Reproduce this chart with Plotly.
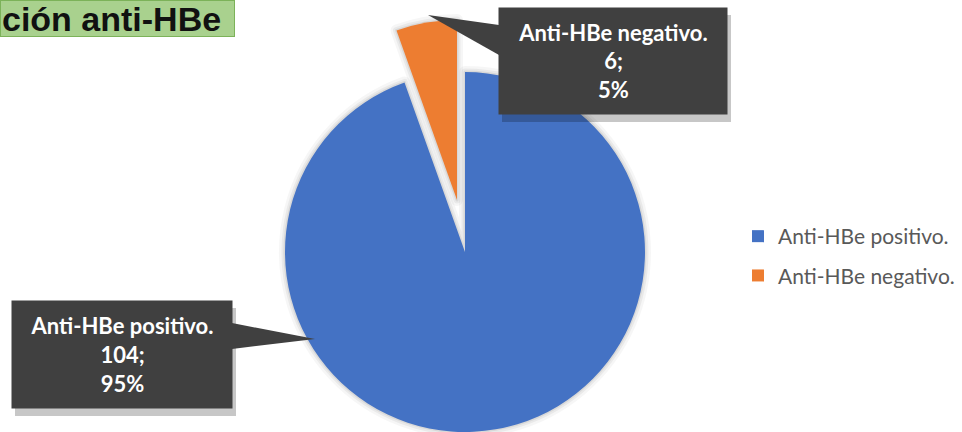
import plotly.graph_objects as go

W, H = 962, 432

# ---- data ----
labels = ["Anti-HBe positivo.", "Anti-HBe negativo."]
values = [104, 6]
percents = ["95%", "5%"]
colors = ["#4472c4", "#ed7d31"]
title_text = "ción anti-HBe"

T = "rgba(0,0,0,0)"

def X(px):
    return px / W

def Y(py):
    return 1 - py / H

# pie geometry (pixel boxes)
main_box = dict(x=[X(285), X(645)], y=[Y(432), Y(72)])
pulled_box = dict(x=[X(277), X(637)], y=[Y(380), Y(20)])

common = dict(labels=labels, values=values, sort=False, direction="clockwise",
              rotation=0, textinfo="none", hoverinfo="label+value+percent")

fig = go.Figure()

# legend-only pies (hidden beneath the main blue slice)
fig.add_trace(go.Pie(labels=[labels[0]], values=[values[0]], marker=dict(colors=[colors[0]]),
                     domain=dict(x=[X(500), X(514)], y=[Y(340), Y(326)]), textinfo="none",
                     legendgroup="p", hoverinfo="skip", showlegend=True))
fig.add_trace(go.Pie(labels=[labels[1]], values=[values[1]], marker=dict(colors=[colors[1]]),
                     domain=dict(x=[X(500), X(514)], y=[Y(340), Y(326)]), textinfo="none",
                     legendgroup="n", hoverinfo="skip", showlegend=True))

# soft shadows
for w, a in [(12, 0.035), (7, 0.05), (3, 0.07)]:
    fig.add_trace(go.Pie(**{**common, "hoverinfo": "skip"},
                         marker=dict(colors=[T, T], line=dict(color=[f"rgba(0,0,0,{a})", T], width=w)),
                         domain=main_box, showlegend=False))
    fig.add_trace(go.Pie(**{**common, "hoverinfo": "skip"},
                         marker=dict(colors=[T, T], line=dict(color=[T, f"rgba(0,0,0,{a})"], width=w)),
                         domain=pulled_box, showlegend=False))

# main (blue) slice
fig.add_trace(go.Pie(**common, marker=dict(colors=[colors[0], T]), domain=main_box, showlegend=False))
# exploded (orange) slice
fig.add_trace(go.Pie(**common, marker=dict(colors=[T, colors[1]]), domain=pulled_box, showlegend=False))

shapes = []
annotations = []

def callout(box, tip, base, text):
    x0, y0, x1, y1 = box
    shapes.append(dict(type="rect", xref="paper", yref="paper", x0=X(x0 + 3), x1=X(x1 + 4),
                       y0=Y(y1 + 4), y1=Y(y0 + 3), fillcolor="rgba(0,0,0,0.22)", line_width=0,
                       layer="above"))
    path = "M {} {} L {} {} L {} {} Z".format(X(tip[0]), Y(tip[1]), X(base[0][0]), Y(base[0][1]),
                                              X(base[1][0]), Y(base[1][1]))
    shapes.append(dict(type="path", xref="paper", yref="paper", path=path,
                       fillcolor="#404040", line_width=0, layer="above"))
    annotations.append(dict(xref="paper", yref="paper", x=X((x0 + x1) / 2), y=Y((y0 + y1) / 2),
                            xanchor="center", yanchor="middle", yshift=4, showarrow=False,
                            width=x1 - x0, height=y1 - y0, borderpad=0, bgcolor="#404040",
                            align="center", valign="middle", text=text,
                            font=dict(family="Lato", size=22, color="white", weight="bold")))

callout((499, 12, 727, 118), (428, 15), ((499, 25), (499, 55)),
        f"<b>{labels[1]}<br>{values[1]};<br>{percents[1]}</b>")
callout((12, 305, 232, 412), (315, 339), ((232, 323), (232, 349)),
        f"<b>{labels[0]}<br>{values[0]};<br>{percents[0]}</b>")

# title box
annotations.append(dict(xref="paper", yref="paper", x=0, y=1, xanchor="left", yanchor="top",
                        showarrow=False, text=f"<b>{title_text}</b>", align="left",
                        width=231, height=33, borderpad=1, bgcolor="#a9d18e",
                        bordercolor="#7cb259", borderwidth=1,
                        font=dict(family="Liberation Sans, Arial", size=34, color="#111111")))

fig.update_layout(
    width=W, height=H, margin=dict(l=0, r=0, t=0, b=0),
    paper_bgcolor="white", plot_bgcolor="white",
    shapes=shapes, annotations=annotations,
    legend=dict(x=X(738), y=Y(256), xanchor="left", yanchor="middle", tracegroupgap=9,
                font=dict(family="Lato", size=21, color="#595959"), bgcolor="rgba(0,0,0,0)"),
)

fig.write_html("out.html")
